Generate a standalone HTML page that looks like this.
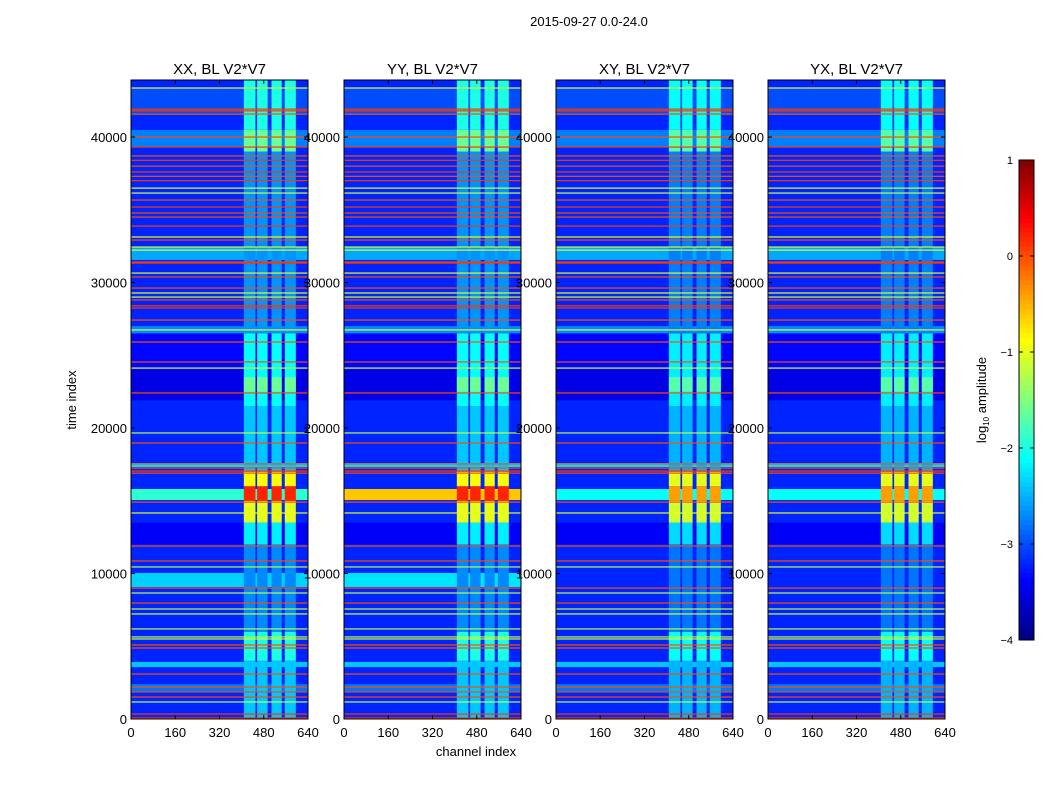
<!DOCTYPE html>
<html><head><meta charset="utf-8"><style>
body{margin:0;background:#fff;}
svg text{font-family:"Liberation Sans",sans-serif;fill:#000;}
</style></head><body>
<svg id="fig" width="1050" height="800" viewBox="0 0 1050 800" xmlns="http://www.w3.org/2000/svg">
<rect width="1050" height="800" fill="#fff"/>
<text x="589" y="26" font-size="13" text-anchor="middle">2015-09-27 0.0-24.0</text>
<g id="panels"></g>
<g id="cbar"></g>
<text transform="translate(76,400) rotate(-90)" font-size="13" text-anchor="middle">time index</text>
<text x="476" y="756" font-size="13" text-anchor="middle">channel index</text>
<text transform="translate(986,400) rotate(-90)" font-size="13" text-anchor="middle">log<tspan font-size="8" dy="3">10</tspan><tspan dy="-3"> amplitude</tspan></text>
</svg>
<script>
// ---- data ----
const panelTitles = ["XX, BL V2*V7","YY, BL V2*V7","XY, BL V2*V7","YX, BL V2*V7"];
const xTicks = [0,160,320,480,640];
const yTicks = [0,10000,20000,30000,40000];
const cbTicks = [1,0,-1,-2,-3,-4];
// background time segments [t0,t1,log10 amp]
const bgSegments = [[0,43920,-3.2],[41500,43400,-3.0],[39310,40480,-2.75],[31550,32440,-2.55],[26500,27000,-2.7],[24000,26500,-3.35],[21900,24000,-3.5],[17320,17590,-2.3],[3570,3920,-2.4],[1900,2400,-2.8],[12000,13500,-3.4]];
// per-panel stripes [t0,t1,val]
const stripesXX = [[15050,15810,-1.9],[9070,10040,-2.35]];
const stripesYY = [[15050,15810,-0.6],[9070,10040,-2.25]];
const stripesXY = [[15050,15810,-2.1]];
const stripesYX = [[15050,15810,-2.1]];
// RFI lines [t, val]
const rfiLines = [[41920,0.1],[41800,0.1],[41580,0.0],[40000,0.0],[39310,0.1],[38700,0.0],[38400,0.1],[38000,0.0],[37600,0.1],[37300,0.0],[37000,0.1],[35670,0.0],[35190,0.1],[34780,0.0],[34500,0.0],[33880,0.1],[32920,0.0],[31410,0.1],[31340,0.1],[30380,0.0],[29620,0.0],[28800,0.0],[28400,0.1],[28250,0.1],[27420,0.0],[25910,0.0],[24540,0.0],[22410,0.0],[18970,0.0],[17530,0.0],[17250,0.0],[17040,0.1],[16900,0.0],[14910,0.0],[11890,0.0],[10860,0.0],[9000,0.0],[7970,0.0],[5090,0.0],[4880,0.0],[3090,0.0],[2200,0.0],[1860,0.0],[1510,0.0],[340,0.1],[70,0.1],
 [43370,-1.0],[36490,-1.0],[36150,-1.1],[33130,-1.0],[32440,-1.1],[32230,-1.0],[30650,-1.0],[29280,-1.0],[29000,-1.1],[26740,-1.0],[24120,-1.0],[19660,-1.2],[14160,-1.0],[10450,-1.2],[8660,-1.2],[7560,-1.2],[7220,-1.1],[6190,-1.2],[5640,-1.2],[5500,-1.1],[1170,-1.2]];
// vertical band channels [c0,c1]
const bandChannels = [[408,450],[456,494],[508,545],[556,596]];
// band activity [t0,t1,val]
const bandActivity = [[0,4000,-2.4],[4000,6000,-2.0],[6000,12000,-2.7],[12000,13500,-2.2],[13500,15000,-1.0],[15000,16000,0.2],[16000,17000,-0.9],[17000,21500,-2.4],[21500,26500,-2.1],[22500,23500,-1.6],[26500,39000,-2.65],[39000,40500,-1.6],[40500,43920,-2.0]];
const bandActivityCross = [[0,4000,-2.5],[4000,6000,-2.1],[6000,12000,-2.8],[12000,13500,-2.3],[13500,15000,-1.1],[15000,16000,-0.4],[16000,17000,-1.0],[17000,21500,-2.5],[21500,26500,-2.2],[22500,23500,-1.7],[26500,39000,-2.75],[39000,40500,-1.7],[40500,43920,-2.1]];

// ---- layout ----
const panelX = [131,344,556,768], PW = 177, PT = 80, PB = 719, TMAX = 43920, CMAX = 640;
const NS = "http://www.w3.org/2000/svg";
function mk(tag, attrs, parent){const e=document.createElementNS(NS,tag);for(const k in attrs)e.setAttribute(k,attrs[k]);parent.appendChild(e);return e;}
function jet(v){let f=(v+4)/5;f=Math.max(0,Math.min(1,f));
 const r=Math.max(0,Math.min(1,1.5-Math.abs(4*f-3))),g=Math.max(0,Math.min(1,1.5-Math.abs(4*f-2))),b=Math.max(0,Math.min(1,1.5-Math.abs(4*f-1)));
 return `rgb(${Math.round(r*255)},${Math.round(g*255)},${Math.round(b*255)})`;}
const panelsG = document.getElementById('panels');
const stripeSets=[stripesXX,stripesYY,stripesXY,stripesYX];
for(let p=0;p<4;p++){
 const x0=panelX[p];
 const xs=c=>x0+c/CMAX*PW, ys=t=>PB-t/TMAX*(PB-PT);
 const g=mk('g',{},panelsG);
 
 
 const hm=mk('g',{},g);
 
 
 const act = p<2?bandActivity:bandActivityCross;
 const bgs = bgSegments.concat(stripeSets[p]);
 bgs.forEach(s=>{const r=mk('rect',{x:xs(0),y:ys(s[1]),width:PW,height:ys(s[0])-ys(s[1]),fill:jet(s[2])},hm);
  });
 act.forEach(a=>bandChannels.forEach(c=>{const r=mk('rect',{x:xs(c[0]),y:ys(a[1]),width:xs(c[1])-xs(c[0]),height:ys(a[0])-ys(a[1]),fill:jet(a[2])},hm);
  }));
 rfiLines.forEach(l=>{const r=mk('rect',{x:xs(0),y:ys(l[0])-0.6,width:PW,height:1.2,fill:jet(l[1])},hm);
  });
 const fr=mk('rect',{x:x0,y:PT,width:PW,height:PB-PT,fill:'none',stroke:'#000','stroke-width':1},g);
 
 const tt=mk('text',{x:x0+PW/2,y:74,'font-size':15,'text-anchor':'middle'},g);tt.textContent=panelTitles[p];
 
 xTicks.forEach(v=>{const x=xs(v);mk('line',{x1:x,x2:x,y1:PB,y2:PB-4,stroke:'#000'},g);mk('line',{x1:x,x2:x,y1:PT,y2:PT+4,stroke:'#000'},g);
  const t=mk('text',{x:x,y:737,'font-size':13,'text-anchor':'middle'},g);t.textContent=v;
  });
 yTicks.forEach(v=>{const y=ys(v);mk('line',{x1:x0,x2:x0+4,y1:y,y2:y,stroke:'#000'},g);mk('line',{x1:x0+PW,x2:x0+PW-4,y1:y,y2:y,stroke:'#000'},g);
  const t=mk('text',{x:x0-4,y:y+5,'font-size':13,'text-anchor':'end'},g);t.textContent=v;
  });
}
// colorbar
const cb=document.getElementById('cbar');const CX=1019,CW=15,CT=160,CB=640;
const cys=v=>CB-(v+4)/5*(CB-CT);
for(let i=0;i<100;i++){const v=-4+i*0.05;mk('rect',{x:CX,y:cys(v+0.05),width:CW,height:(CB-CT)/100+0.5,fill:jet(v+0.025)},cb);}
mk('rect',{x:CX,y:CT,width:CW,height:CB-CT,fill:'none',stroke:'#000'},cb);
cbTicks.forEach(v=>{const y=cys(v);mk('line',{x1:CX,x2:CX+4,y1:y,y2:y,stroke:'#000'},cb);mk('line',{x1:CX+CW,x2:CX+CW-4,y1:y,y2:y,stroke:'#000'},cb);
 const t=mk('text',{x:1013,y:y+4,'font-size':11,'text-anchor':'end'},cb);t.textContent=v<0?'\u2212'+(-v):v;
 });
</script>
</body></html>
